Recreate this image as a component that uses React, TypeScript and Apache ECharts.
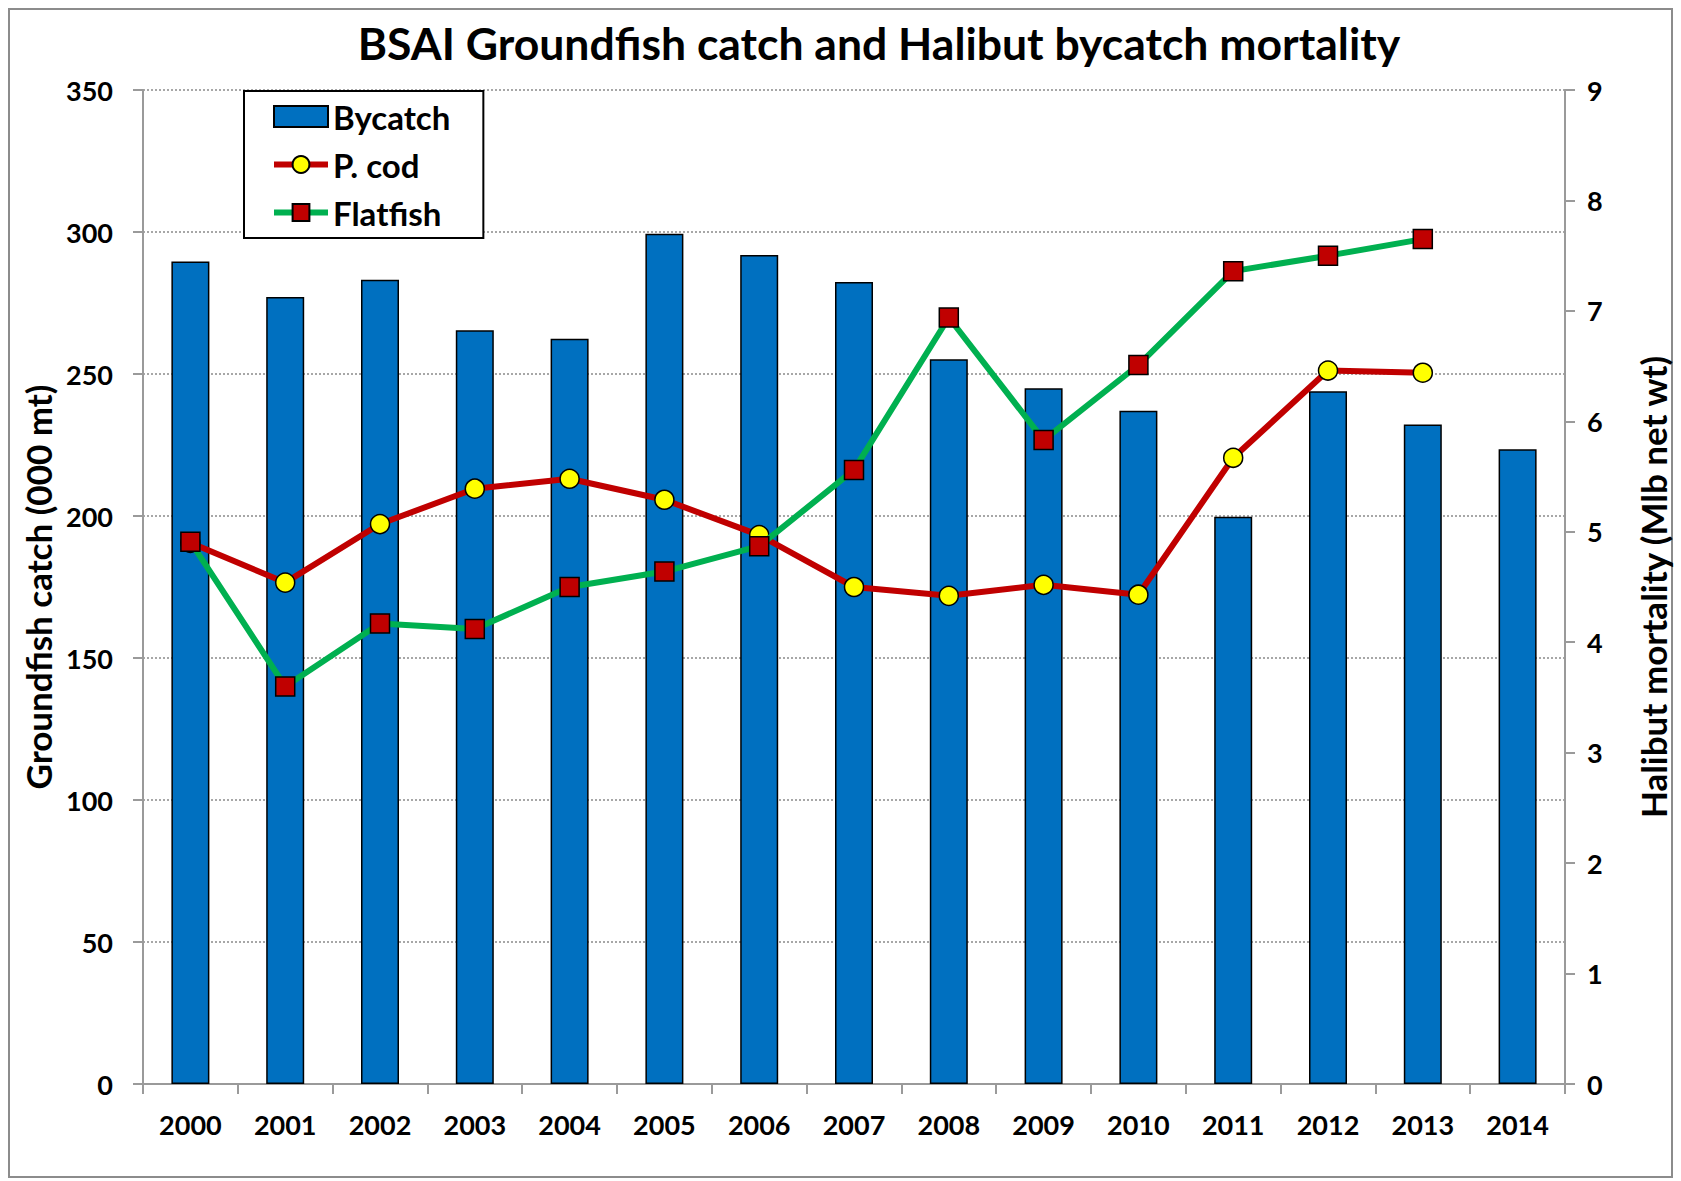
import React, { useEffect, useRef } from "react";
import * as echarts from "echarts";

const years = ["2000", "2001", "2002", "2003", "2004", "2005", "2006", "2007", "2008", "2009", "2010", "2011", "2012", "2013", "2014"];
const bycatch = [289.6, 277.1, 283.2, 265.4, 262.4, 299.4, 291.9, 282.4, 255.2, 245.0, 237.1, 199.7, 243.9, 232.2, 223.5];
const pcod = [4.9, 4.54, 5.07, 5.39, 5.48, 5.29, 4.97, 4.5, 4.42, 4.52, 4.43, 5.67, 6.46, 6.44, null];
const flatfish = [4.91, 3.6, 4.17, 4.12, 4.5, 4.64, 4.87, 5.56, 6.94, 5.83, 6.51, 7.36, 7.5, 7.65, null];

const titleText = "BSAI Groundfish catch and Halibut bycatch mortality";
const leftName = "Groundfish catch (000 mt)";
const rightName = "Halibut mortality (Mlb net wt)";

const FONT = "Lato";
const axisGray = "#9a9a9a";

export default function App() {
  const ref = useRef<HTMLDivElement>(null);
  useEffect(() => {
    if (!ref.current) return;
    const chart = echarts.init(ref.current, undefined, { renderer: "svg" });
    const labelStyle = { fontFamily: FONT, fontWeight: "bold" as const, fontSize: 27, color: "#000" };
    chart.setOption({
      animation: false,
      backgroundColor: "#fff",
      textStyle: { fontFamily: FONT },
      graphic: [
        {
          type: "rect",
          shape: { x: 9, y: 9, width: 1663, height: 1168 },
          style: { fill: "none", stroke: "#8c8c8c", lineWidth: 2 },
          z: -10,
        },
        {
          type: "text",
          x: 879,
          y: 42,
          style: {
            text: titleText,
            fontFamily: FONT,
            fontWeight: "bold",
            fontSize: 44.5,
            fill: "#000",
            align: "center",
            verticalAlign: "middle",
          },
        },
      ],
      legend: {
        orient: "vertical",
        left: 244,
        top: 91,
        padding: [9, 33, 9, 27],
        itemGap: 15,
        itemWidth: 54,
        itemHeight: 21,
        backgroundColor: "#fff",
        borderColor: "#000",
        borderWidth: 2,
        textStyle: { fontFamily: FONT, fontWeight: "bold", fontSize: 33, color: "#000" },
        data: [
          { name: "Bycatch", icon: "rect" },
          { name: "P. cod", lineStyle: { width: 6, color: "#C00000" } },
          { name: "Flatfish", lineStyle: { width: 6, color: "#00B050" } },
        ],
        z: 10,
      },
      grid: { left: 143, right: 116, top: 90, bottom: 97, containLabel: false },
      xAxis: {
        type: "category",
        data: years,
        axisLine: { lineStyle: { color: axisGray, width: 2 } },
        axisTick: { show: true, length: 10, lineStyle: { color: axisGray, width: 2 } },
        axisLabel: { ...labelStyle, margin: 27 },
      },
      yAxis: [
        {
          type: "value",
          min: 0,
          max: 350,
          interval: 50,
          name: leftName,
          nameLocation: "middle",
          nameGap: 76,
          nameTextStyle: { fontFamily: FONT, fontWeight: "bold", fontSize: 35, color: "#000" },
          axisLine: { show: true, lineStyle: { color: axisGray, width: 2 } },
          axisTick: { show: true, length: 10, lineStyle: { color: axisGray, width: 2 } },
          axisLabel: { ...labelStyle, margin: 30 },
          splitLine: { show: true, lineStyle: { type: [2, 2], color: "#8a8a8a", width: 1.5 } },
        },
        {
          type: "value",
          min: 0,
          max: 9,
          interval: 1,
          position: "right",
          name: rightName,
          nameLocation: "middle",
          nameGap: 70,
          nameRotate: 90,
          nameTextStyle: { fontFamily: FONT, fontWeight: "bold", fontSize: 35, color: "#000" },
          axisLine: { show: true, lineStyle: { color: axisGray, width: 2 } },
          axisTick: { show: true, length: 10, lineStyle: { color: axisGray, width: 2 } },
          axisLabel: { ...labelStyle, margin: 22 },
          splitLine: { show: false },
        },
      ],
      series: [
        {
          name: "Bycatch",
          type: "bar",
          data: bycatch,
          barWidth: 38,
          itemStyle: { color: "#0070C0", borderColor: "#000", borderWidth: 1.5 },
        },
        {
          name: "P. cod",
          type: "line",
          yAxisIndex: 1,
          data: pcod,
          symbol: "circle",
          symbolSize: 19,
          lineStyle: { color: "#C00000", width: 6 },
          itemStyle: { color: "#FFFF00", borderColor: "#000", borderWidth: 1.5 },
          z: 3,
        },
        {
          name: "Flatfish",
          type: "line",
          yAxisIndex: 1,
          data: flatfish,
          symbol: "rect",
          symbolSize: 19,
          lineStyle: { color: "#00B050", width: 6 },
          itemStyle: { color: "#C00000", borderColor: "#000", borderWidth: 1.5 },
          z: 4,
        },
      ],
    });
    return () => chart.dispose();
  }, []);
  return <div ref={ref} style={{ position: "absolute", left: 0, top: 0, width: 1681, height: 1181 }} />;
}
